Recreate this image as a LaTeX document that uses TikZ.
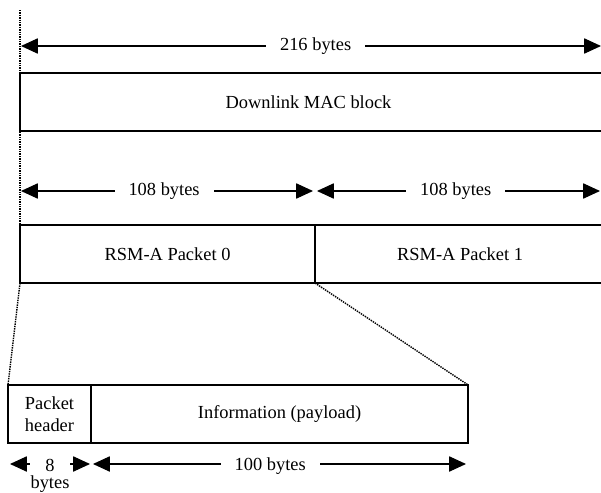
\documentclass[tikz,border=0pt]{standalone}
\usepackage{fontspec}
\setmainfont{Liberation Serif}
\usetikzlibrary{arrows.meta,positioning}
\tikzset{%
field/.style={draw, line width=1.1pt, outer sep=0pt, inner sep=0pt, minimum height=1.45cm, font=\fontsize{13.1}{15.6}\selectfont},
dim/.style={line width=0.8pt, {Triangle[length=0.42cm,width=0.38cm]}-{Triangle[length=0.42cm,width=0.38cm]}},
dimlabel/.style={fill=white, inner xsep=0.35cm, inner ysep=1pt, font=\fontsize{13.1}{15.6}\selectfont},
zoomline/.style={line width=1pt, dash pattern=on 1pt off 0.7pt}
}

\begin{document}
\begin{tikzpicture}[x=0.025cm, y=-0.025cm]
		\useasboundingbox (0,0) rectangle (601,493);

		% blocks
		\node[field, minimum width=14.625cm, anchor=north west] (mac) at (20,73) {\hspace*{-0.2cm}Downlink MAC block};
		\node[field, minimum width=7.375cm, below=2.35cm of mac.south west, anchor=north west] (pkt0) {RSM-A Packet 0};
		\node[field, minimum width=7.25cm, right=0pt of pkt0] (pkt1) {RSM-A Packet 1};
		\node[field, minimum width=2.075cm, anchor=north west, align=center] (hdr) at (8,385) {Packet\\header};
		\node[field, minimum width=9.425cm, right=0pt of hdr] (info) {Information (payload)};

		% ends of the dimension lines
		\coordinate (t0) at (21,46);
		\coordinate (t1) at (601,46);
		\coordinate (m0) at (21,191);
		\coordinate (m1) at (313,191);
		\coordinate (m2) at (317,191);
		\coordinate (m3) at (600,191);
		\coordinate (b0) at (10,464);
		\coordinate (b1) at (90,464);
		\coordinate (b2) at (93,464);
		\coordinate (b3) at (466,464);
		\coordinate (top) at (20,10);

		\draw[dim] (t0) -- node[dimlabel, pos=0.508] (all) {216 bytes} (t1);
		\draw[dim] (m0) -- node[dimlabel, pos=0.49] (half0) {108 bytes} (m1);
		\draw[dim] (m2) -- node[dimlabel, pos=0.49] (half1) {108 bytes} (m3);
		\draw[dim] (b0) -- node[dimlabel, inner xsep=0.5pt, inner ysep=0.5pt, anchor=north, yshift=0.14cm, align=center] (hsize) {8\\[-3.5pt]bytes} (b1);
		\draw[dim] (b2) -- node[dimlabel, pos=0.475, yshift=-0.05cm] (isize) {100 bytes} (b3);

		% zoom lines
		\draw[zoomline] (top) -- (pkt0.south west);
		\draw[zoomline] (pkt0.south west) -- (hdr.north west);
		\draw[zoomline] (pkt0.south east) -- (info.north east);
	\end{tikzpicture}
\end{document}
